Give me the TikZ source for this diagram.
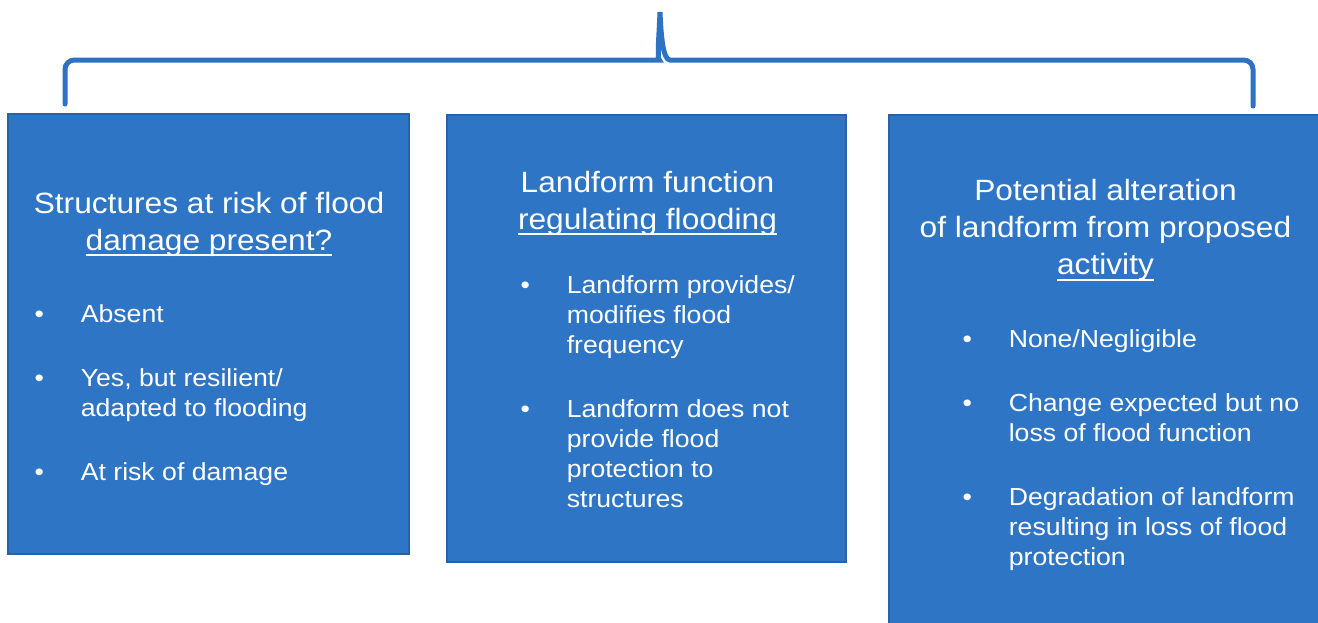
\documentclass[tikz,border=0pt]{standalone}
\usepackage{fontspec}
\setmainfont{Liberation Sans}[FakeStretch=1.08]
\usepackage{xcolor}
\definecolor{panelBlue}{HTML}{2F75C5}
\definecolor{panelEdge}{HTML}{2A62A6}
\definecolor{braceBlue}{HTML}{2E72C2}
\usetikzlibrary{fit,positioning}

% underline that sits just under the baseline
\newsavebox{\ulbox}
\newcommand{\ulined}[1]{\sbox{\ulbox}{#1}\rlap{\rule[-4.4pt]{\wd\ulbox}{1.3pt}}\usebox{\ulbox}}
% centred heading lines, baseline on the first line
\newcommand{\headtab}[1]{\begin{tabular}[t]{@{}c@{}}#1\end{tabular}}
% bullet column + text column
\newcommand{\pointlist}[1]{\begin{tabular}[t]{@{}l@{\hspace{27.7pt}}l@{}}#1\end{tabular}}
\newcommand{\nextitem}{\\[25.5pt]}

\tikzset{%
  panel/.style={%
    rectangle,
    draw=panelEdge,
    line width=1pt,
    fill=panelBlue,
    inner sep=0pt
  },
  heading/.style={%
    text=white,
    font=\fontsize{22}{28}\selectfont,
    inner sep=0pt,
    anchor=base
  },
  itemList/.style={%
    text=white,
    font=\fontsize{18.5}{22.5}\selectfont,
    inner sep=0pt,
    anchor=base west
  },
  brace/.style={%
    draw=braceBlue,
    line width=3.75pt,
    line cap=round
  }
}

\begin{document}
\begin{tikzpicture}[x=0.75pt,y=-0.75pt]
            \clip (0,0) rectangle (1318,622);
            \fill[white] (0,0) rectangle (1318,622);

            % brace over the three panels
            \coordinate (braceL) at (65,104);
            \coordinate (braceR) at (1253,106);
            \coordinate (braceTip) at (660,12);
            \draw[brace] (braceL) [rounded corners=7pt] |- (650,60) [sharp corners]
                .. controls (657,60) and (659,36) .. (braceTip)
                .. controls (661,36) and (663,60) .. (670,60) [rounded corners=7pt] -| (braceR);

            \node[panel, fit={(8,114) (409,554)}] (panelA) {};
            \node[panel, fit={(447,115) (846,562)}] (panelB) {};
            \node[panel, fit={(889,115) (1322,640)}] (panelC) {};

            \node[heading] (headA) at (209,213) {\headtab{Structures at risk of flood\\ \ulined{damage present?}}};
            \node[heading] (headB) at (647.5,192) {\headtab{Landform function\\ \ulined{regulating flooding}}};
            \node[heading] (headC) at (1105.5,200) {\headtab{Potential alteration\\ of landform from proposed\\ \ulined{activity}}};

            \node[itemList] (listA) at (34.3,322) {\pointlist{%
                \textbullet & Absent\nextitem
                \textbullet & Yes, but resilient/\\ & adapted to flooding\nextitem
                \textbullet & At risk of damage}};
            \node[itemList] (listB) at (520.3,293) {\pointlist{%
                \textbullet & Landform provides/\\ & modifies flood\\ & frequency\nextitem
                \textbullet & Landform does not\\ & provide flood\\ & protection to\\ & structures}};
            \node[itemList] (listC) at (962.3,347) {\pointlist{%
                \textbullet & None/Negligible\nextitem
                \textbullet & Change expected but no\\ & loss of flood function\nextitem
                \textbullet & Degradation of landform\\ & resulting in loss of flood\\ & protection}};
        \end{tikzpicture}
\end{document}
